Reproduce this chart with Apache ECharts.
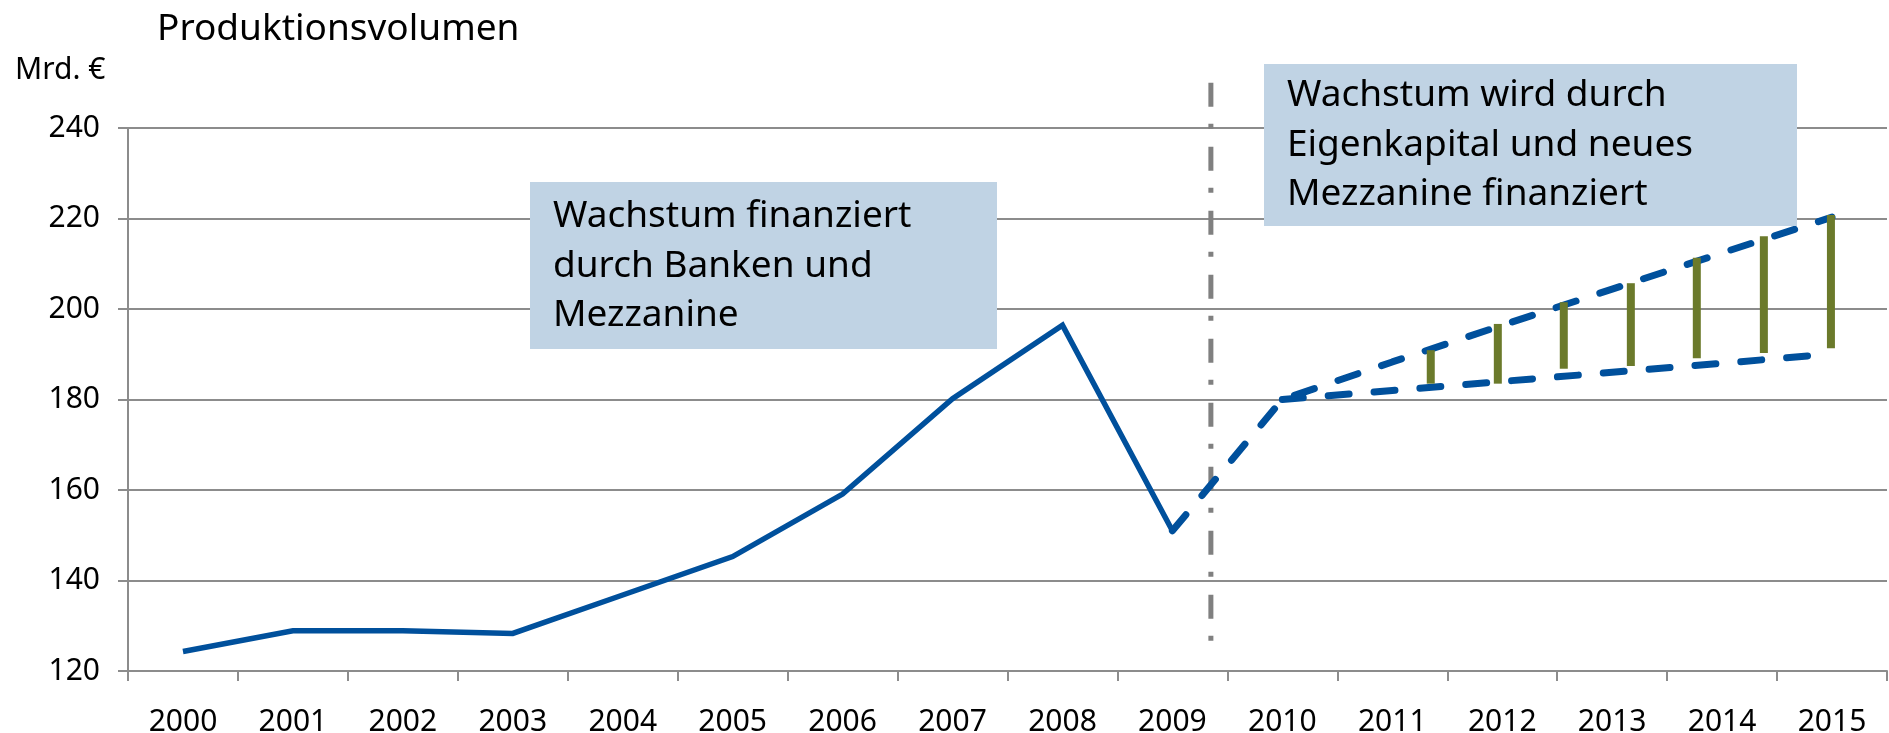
<!DOCTYPE html>
<html>
<head>
<meta charset="utf-8">
<script src="https://cdn.jsdelivr.net/npm/echarts@6/dist/echarts.min.js"></script>
<style>
  html, body { margin: 0; padding: 0; background: #fff; }
  #chart { width: 1889px; height: 733px; }
</style>
</head>
<body>
<div id="chart"></div>
<script>
// Produktionsvolumen in Mrd. €, 2000-2015 (Ist bis 2009, danach Szenarien)
const jahre = ['2000', '2001', '2002', '2003', '2004', '2005', '2006', '2007',
  '2008', '2009', '2010', '2011', '2012', '2013', '2014', '2015'];

// Ist-Werte (durchgezogen)
const istWerte = [124.3, 128.9, 128.9, 128.3, 136.8, 145.3, 159.1, 180.2,
  196.4, 151, null, null, null, null, null, null];

// Prognose oben (gestrichelt, ab 2009)
const prognoseOben = [null, null, null, null, null, null, null, null,
  null, 151, 180, 188.3, 196.4, 204.4, 212.4, 220.3];

// Prognose unten (gestrichelt, ab 2010)
const prognoseUnten = [null, null, null, null, null, null, null, null,
  null, null, 180, 182, 184, 186, 188, 190.1];

// Finanzierungslücke (grüne Balken): Position auf der Zeitachse, von, bis
const lueckeX = [2011.35, 2011.96, 2012.56, 2013.17, 2013.77, 2014.38, 2014.99];
const lueckeVon = [183.5, 183.5, 186.8, 187.4, 189.1, 190.3, 191.3];
const lueckeBis = [190.9, 196.7, 201.5, 205.7, 211.3, 216.1, 220.8];

// Trennlinie zwischen den Phasen
const trennX = 2009.35;
const trennVon = 250;
const trennBis = 126;

const yTicks = { min: 120, max: 240, interval: 20 };

const textBoxLinks = 'Wachstum finanziert\ndurch Banken und\nMezzanine';
const textBoxRechts = 'Wachstum wird durch\nEigenkapital und neues\nMezzanine finanziert';

const FONT = '"Noto Sans", "Open Sans", sans-serif';
const BLAU = '#00509c';
const GRUEN = '#6b7a2b';
const GRAU = '#8c8c8c';
const BOX = '#c0d3e4';

const chart = echarts.init(document.getElementById('chart'));

const lueckeDaten = lueckeX.map((x, i) => [x, lueckeVon[i], lueckeBis[i]]);

const option = {
  animation: false,
  backgroundColor: '#fff',
  grid: { left: 128, right: 2, top: 128, bottom: 62, outerBoundsMode: 'none', containLabel: false },
  xAxis: [
    {
      type: 'category',
      data: jahre,
      boundaryGap: true,
      axisLine: { lineStyle: { color: GRAU, width: 2 } },
      axisTick: { show: true, length: 10, lineStyle: { color: GRAU, width: 2 } },
      axisLabel: { color: '#000', fontSize: 30, fontFamily: FONT, margin: 36 },
      splitLine: { show: false }
    },
    {
      type: 'value',
      min: 1999.5,
      max: 2015.5,
      show: false,
      splitLine: { show: false }
    }
  ],
  yAxis: {
    type: 'value',
    min: yTicks.min,
    max: yTicks.max,
    interval: yTicks.interval,
    axisLine: { show: true, lineStyle: { color: GRAU, width: 2 } },
    axisTick: { show: true, length: 10, lineStyle: { color: GRAU, width: 2 } },
    axisLabel: { color: '#000', fontSize: 30, fontFamily: FONT, margin: 28 },
    splitLine: { show: true, lineStyle: { color: GRAU, width: 2 } }
  },
  graphic: [
    {
      type: 'text',
      z: 100,
      style: { text: 'Produktionsvolumen', x: 157, y: 29, verticalAlign: 'middle',
        fill: '#000', font: '37px ' + FONT }
    },
    {
      type: 'text',
      z: 100,
      style: { text: 'Mrd. €', x: 15, y: 70, verticalAlign: 'middle',
        fill: '#000', font: '30px ' + FONT }
    },
    {
      type: 'rect',
      z: 100,
      shape: { x: 530, y: 182, width: 467, height: 167 },
      style: { fill: BOX }
    },
    {
      type: 'text',
      z: 101,
      style: { text: textBoxLinks, x: 553, y: 192, verticalAlign: 'top',
        lineHeight: 49.5, fill: '#000', font: '37px ' + FONT }
    },
    {
      type: 'rect',
      z: 100,
      shape: { x: 1264, y: 64, width: 533, height: 162 },
      style: { fill: BOX }
    },
    {
      type: 'text',
      z: 101,
      style: { text: textBoxRechts, x: 1287, y: 71, verticalAlign: 'top',
        lineHeight: 49.5, fill: '#000', font: '37px ' + FONT }
    }
  ],
  series: [
    {
      name: 'Trennlinie',
      type: 'line',
      xAxisIndex: 1,
      data: [[trennX, trennVon], [trennX, trennBis]],
      symbol: 'none',
      clip: false,
      silent: true,
      z: 2,
      lineStyle: { color: '#808080', width: 5, type: [24, 17, 5, 18] }
    },
    {
      name: 'Ist',
      type: 'line',
      data: istWerte,
      symbol: 'none',
      z: 3,
      lineStyle: { color: BLAU, width: 5.5, join: 'miter' }
    },
    {
      name: 'Prognose oben',
      type: 'line',
      data: prognoseOben,
      symbol: 'none',
      z: 3,
      lineStyle: { color: BLAU, width: 7, type: [21, 25], cap: 'round' }
    },
    {
      name: 'Prognose unten',
      type: 'line',
      data: prognoseUnten,
      symbol: 'none',
      z: 3,
      lineStyle: { color: BLAU, width: 7, type: [21, 25], cap: 'round' }
    },
    {
      name: 'Finanzierungslücke',
      type: 'custom',
      xAxisIndex: 1,
      z: 4,
      data: lueckeDaten,
      encode: { x: 0, y: [1, 2] },
      renderItem: function (params, api) {
        const oben = api.coord([api.value(0), api.value(2)]);
        const unten = api.coord([api.value(0), api.value(1)]);
        return {
          type: 'rect',
          shape: { x: oben[0] - 4, y: oben[1], width: 8, height: unten[1] - oben[1] },
          style: { fill: GRUEN }
        };
      }
    }
  ]
};

chart.setOption(option);
</script>
</body>
</html>
